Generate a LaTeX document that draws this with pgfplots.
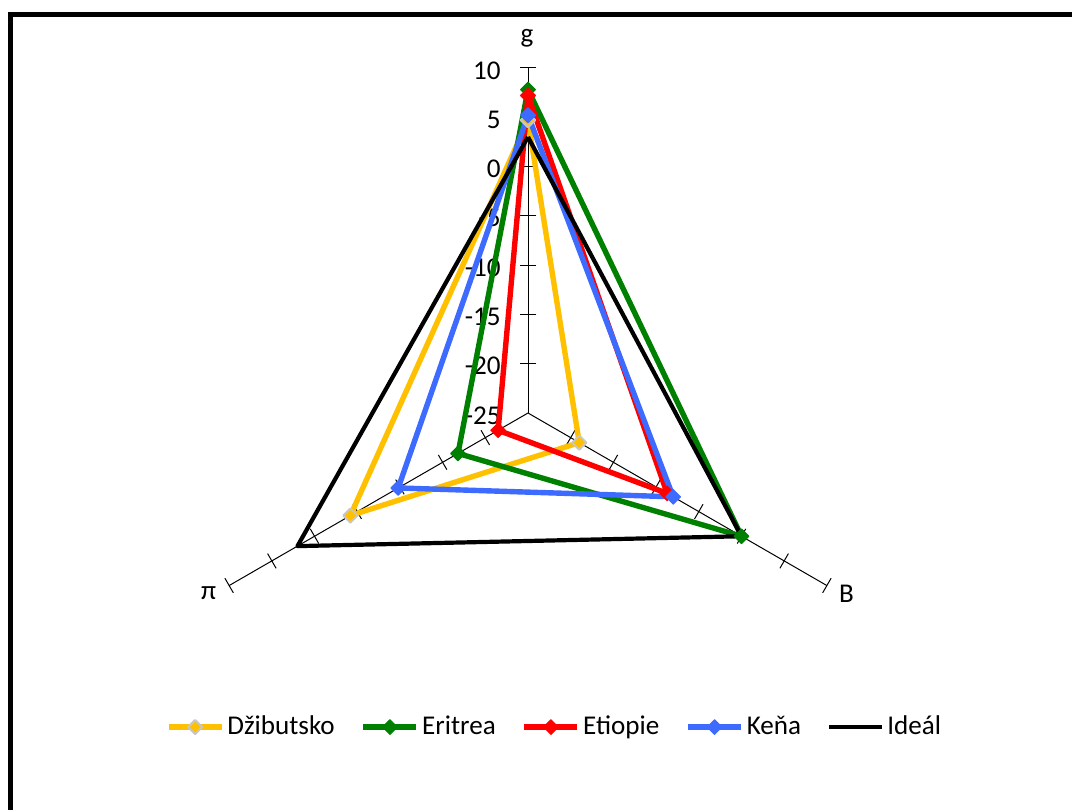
\documentclass[border=0pt]{standalone}
\usepackage{fontspec}
\setmainfont{Carlito}
\usepackage{pgfplots}
\usepackage{pgfplotstable}
\pgfplotsset{compat=1.18}

\definecolor{dzcol}{RGB}{255,192,0}
\definecolor{ercol}{RGB}{0,128,0}
\definecolor{etcol}{RGB}{255,0,0}
\definecolor{kecol}{RGB}{61,106,255}

% angle of spoke, values per country (radial axis from -25 to 10)
\pgfplotstableread{
ang  dz    er     et     ke    id
90   4.7   7.8    7.2    5.2   3
-30  -19   0      -8.7   -8    0
210  -4.2  -16.8  -21.5  -9.8  2
90   4.7   7.8    7.2    5.2   3
}\radar

\begin{document}
\begin{tikzpicture}
\useasboundingbox (0,0) rectangle (536bp,-405bp);
% outer frame (only left and top edge visible)
\draw[line width=2.5bp] (5bp,-420bp) -- (5bp,-7bp) -- (550bp,-7bp);

\fontsize{13.6}{16}\selectfont
% spokes, tick marks and labels
\begin{scope}[shift={(264bp,-206.5bp)}, x=4.93bp, y=4.93bp]
  \foreach \a in {90,-30,210} {
    \draw[line width=0.5bp] (0,0) -- (\a:35);
    \foreach \r in {5,10,...,35}
      \draw[line width=0.5bp, rotate=\a] (\r,-0.86) -- (\r,0.86);
  }
  \foreach \r/\t in {0/-25,5/-20,10/-15,15/-10,20/-5,25/0,30/5,35/10}
    \node[anchor=east, inner sep=0] at (-2.74,\r-0.25) {\t};
  \node at (-0.1,38) {g};
  \node at (-32.4,-18.3) {π};
  \node at (32.3,-18.3) {B};
\end{scope}

\begin{axis}[
  at={(264bp,-206.5bp)}, anchor=origin,
  x=4.93bp, y=4.93bp,
  xmin=-36, xmax=36, ymin=-34, ymax=36,
  hide axis, clip=false,
  data cs=polar,
  legend columns=-1,
  legend style={
    at={(0.538,0.0307)}, anchor=center,
    draw=none, fill=none,
    font=\fontsize{13.6}{16}\selectfont,
    /tikz/every even column/.append style={column sep=11.5bp},
    nodes={inner sep=1.5bp},
  },
  legend image code/.code={
    \draw[mark repeat=2,mark phase=2] plot coordinates {(0bp,0bp) (13.25bp,0bp) (26.5bp,0bp)};
  },
  every axis plot/.append style={line join=round},
]
\addplot[dzcol, line width=2.7bp, mark=square*, mark size=2.5bp,
  mark options={rotate=45, fill=dzcol, draw=black!22, line width=1bp}]
  table[x=ang, y expr=\thisrow{dz}+25] {\radar};
\addplot[ercol, line width=2.7bp, mark=square*, mark size=2.6bp,
  mark options={rotate=45, fill=ercol, draw=ercol, line width=0.5bp}]
  table[x=ang, y expr=\thisrow{er}+25] {\radar};
\addplot[etcol, line width=2.7bp, mark=square*, mark size=2.6bp,
  mark options={rotate=45, fill=etcol, draw=etcol, line width=0.5bp}]
  table[x=ang, y expr=\thisrow{et}+25] {\radar};
\addplot[kecol, line width=2.7bp, mark=square*, mark size=2.6bp,
  mark options={rotate=45, fill=kecol, draw=kecol, line width=0.5bp}]
  table[x=ang, y expr=\thisrow{ke}+25] {\radar};
\addplot[black, line width=2.1bp, no marks]
  table[x=ang, y expr=\thisrow{id}+25] {\radar};
\legend{Džibutsko, Eritrea, Etiopie, Keňa, Ideál}
\end{axis}
\end{tikzpicture}
\end{document}
